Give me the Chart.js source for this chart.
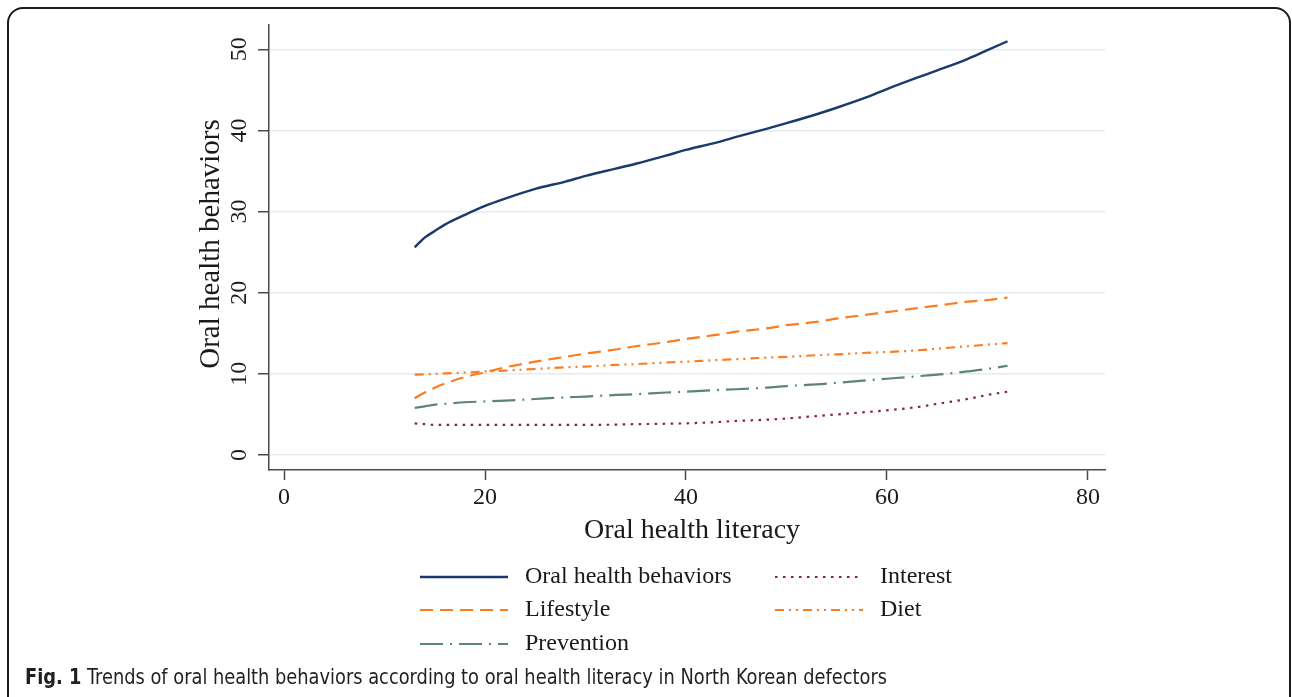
<!DOCTYPE html>
<html>
<head>
<meta charset="utf-8">
<script src="https://cdn.jsdelivr.net/npm/chart.js@4/dist/chart.umd.min.js"></script>
<style>
  html, body { margin: 0; padding: 0; background: #fff; }
  #wrap { position: relative; width: 1292px; height: 697px; overflow: hidden; }
  #frame {
    position: absolute; left: 7px; top: 7px; width: 1284px; height: 740px;
    border: 2px solid #1a1a1a; border-radius: 16px; box-sizing: border-box;
  }
  #chart { position: absolute; left: 0; top: 0; }
  #caption {
    position: absolute; left: 25px; top: 665px; white-space: nowrap;
    font-family: "Liberation Sans Narrow", "DejaVu Sans Condensed", "Liberation Sans", sans-serif;
    font-size: 21px; color: #231f20; transform-origin: 0 0;
  }
  #caption b { font-weight: bold; }
</style>
</head>
<body>
<div id="wrap">
  <div id="frame"></div>
  <canvas id="chart" width="1292" height="697"></canvas>
  <div id="caption"><b>Fig. 1</b> Trends of oral health behaviors according to oral health literacy in North Korean defectors</div>
</div>
<script>
// Oral health literacy score (x) at which each fitted curve is sampled
const literacy = [13, 14, 15, 16, 18, 20, 22, 25, 28, 30, 33, 35, 38, 40, 43, 45, 48, 50, 53, 55, 58, 60, 63, 65, 68, 70, 72];

// Fitted oral health behavior scores
const totalBehaviors = [25.6, 26.8, 27.6, 28.4, 29.6, 30.7, 31.6, 32.8, 33.7, 34.4, 35.3, 35.9, 36.9, 37.6, 38.5, 39.2, 40.2, 40.9, 42.0, 42.8, 44.1, 45.1, 46.5, 47.4, 48.8, 49.9, 51.0];
const lifestyle      = [7.0, 7.7, 8.3, 8.8, 9.6, 10.2, 10.8, 11.5, 12.1, 12.5, 13.0, 13.4, 13.9, 14.3, 14.8, 15.2, 15.6, 16.0, 16.4, 16.8, 17.3, 17.6, 18.1, 18.4, 18.9, 19.1, 19.4];
const prevention     = [5.8, 6.0, 6.2, 6.3, 6.5, 6.6, 6.7, 6.9, 7.1, 7.2, 7.4, 7.5, 7.7, 7.8, 8.0, 8.1, 8.3, 8.5, 8.7, 8.9, 9.2, 9.4, 9.7, 9.9, 10.3, 10.6, 11.0];
const interest       = [3.9, 3.8, 3.7, 3.7, 3.7, 3.7, 3.7, 3.7, 3.7, 3.7, 3.75, 3.8, 3.85, 3.9, 4.05, 4.2, 4.35, 4.5, 4.8, 5.0, 5.3, 5.5, 5.9, 6.3, 6.9, 7.4, 7.8];
const diet           = [9.9, 9.95, 10.0, 10.05, 10.15, 10.3, 10.4, 10.6, 10.8, 10.9, 11.1, 11.2, 11.4, 11.5, 11.7, 11.8, 12.0, 12.1, 12.3, 12.4, 12.6, 12.7, 12.9, 13.1, 13.4, 13.6, 13.8];

// Axis ticks
const xTicks = [0, 20, 40, 60, 80];
const yTicks = [0, 10, 20, 30, 40, 50];

const seriesNames = ["Oral health behaviors", "Lifestyle", "Prevention", "Interest", "Diet"];

const serif = '"Liberation Serif", "Times New Roman", serif';
const ink = '#1a1a1a';

function points(values) {
  return literacy.map((x, i) => ({ x: x, y: values[i] }));
}

function series(label, values, color, dash, width) {
  return {
    label: label,
    data: points(values),
    borderColor: color,
    backgroundColor: color,
    borderWidth: width,
    borderDash: dash,
    borderCapStyle: 'butt',
    pointRadius: 0,
    fill: false,
    cubicInterpolationMode: 'monotone'
  };
}

// Tick labels, axis titles and the two-column legend
const annotate = {
  id: 'annotate',
  afterDraw(chart) {
    const ctx = chart.ctx;
    const xs = chart.scales.x, ys = chart.scales.y;
    ctx.save();
    ctx.fillStyle = ink;

    // x tick labels
    ctx.font = '24px ' + serif;
    ctx.textAlign = 'center';
    ctx.textBaseline = 'middle';
    xTicks.forEach(v => ctx.fillText(String(v), xs.getPixelForValue(v), 498));

    // y tick labels, rotated
    yTicks.forEach(v => {
      ctx.save();
      ctx.translate(240, ys.getPixelForValue(v));
      ctx.rotate(-Math.PI / 2);
      ctx.fillText(String(v), 0, 0);
      ctx.restore();
    });

    // axis titles
    ctx.font = '28px ' + serif;
    ctx.fillText('Oral health literacy', 692, 531);
    ctx.save();
    ctx.font = '29px ' + serif;
    ctx.translate(211, 244);
    ctx.rotate(-Math.PI / 2);
    ctx.fillText('Oral health behaviors', 0, 0);
    ctx.restore();

    // legend
    const slots = [
      { ds: 0, x: 420, y: 577 }, { ds: 3, x: 775, y: 577 },
      { ds: 1, x: 420, y: 610 }, { ds: 4, x: 775, y: 610 },
      { ds: 2, x: 420, y: 644 }
    ];
    ctx.font = '24px ' + serif;
    ctx.textAlign = 'left';
    slots.forEach(s => {
      const d = chart.data.datasets[s.ds];
      ctx.save();
      ctx.strokeStyle = d.borderColor;
      ctx.lineWidth = d.borderWidth;
      ctx.setLineDash(d.borderDash);
      ctx.beginPath();
      ctx.moveTo(s.x, s.y);
      ctx.lineTo(s.x + 88, s.y);
      ctx.stroke();
      ctx.restore();
      ctx.fillText(d.label, s.x + 105, s.y);
    });
    ctx.restore();
  }
};

const chart = new Chart(document.getElementById('chart'), {
  type: 'line',
  data: {
    datasets: [
      series(seriesNames[0], totalBehaviors, '#1b3a6b', [], 2.4),
      series(seriesNames[1], lifestyle, '#fb7d1f', [13, 7], 2.2),
      series(seriesNames[2], prevention, '#5d8574', [23, 7, 2, 7], 2.2),
      series(seriesNames[3], interest, '#8c2430', [2.5, 5.5], 2.2),
      series(seriesNames[4], diet, '#fb7d1f', [9, 5, 2, 5, 2, 5], 2.2)
    ]
  },
  options: {
    responsive: false,
    animation: false,
    devicePixelRatio: 1,
    layout: { padding: { left: 258, right: 187, top: 25, bottom: 217 } },
    plugins: { legend: { display: false }, tooltip: { enabled: false } },
    scales: {
      x: {
        type: 'linear',
        min: -1.5,
        max: 81.7,
        afterFit(s) { s.height = 10; },
        ticks: { display: false, stepSize: 20, includeBounds: false },
        grid: { drawOnChartArea: false, drawTicks: true, tickLength: 10, tickColor: '#4a4a4a', tickWidth: 1.5 },
        border: { display: true, color: '#4a4a4a', width: 1.5 }
      },
      y: {
        type: 'linear',
        min: -1.85,
        max: 53,
        afterFit(s) { s.width = 11; },
        ticks: { display: false, stepSize: 10, includeBounds: false },
        grid: { color: '#e2ecf0', lineWidth: 1.5, drawTicks: true, tickLength: 11, tickColor: '#4a4a4a', tickWidth: 1.5 },
        border: { display: true, color: '#4a4a4a', width: 1.5 }
      }
    }
  },
  plugins: [annotate]
});

// Fit the caption to its line width
const cap = document.getElementById('caption');
const w = cap.getBoundingClientRect().width;
cap.style.transform = 'scaleX(' + (862 / w) + ')';
</script>
</body>
</html>
